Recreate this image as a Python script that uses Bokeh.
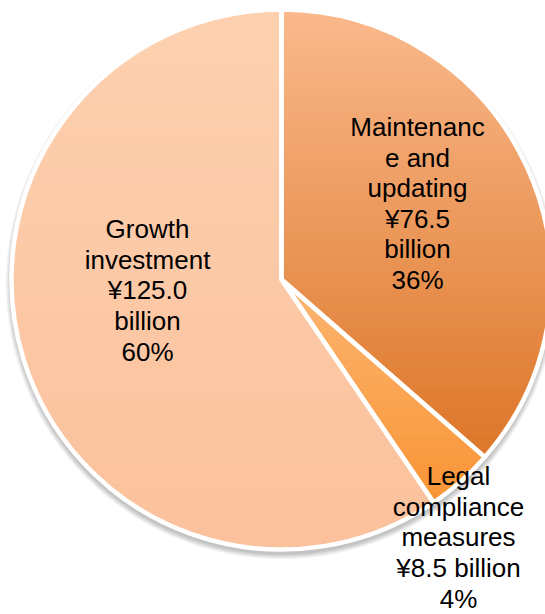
import numpy as np
from bokeh.plotting import figure
from bokeh.models import Range1d
from bokeh.core.properties import value
from bokeh.embed import file_html
from bokeh.resources import INLINE

# ---- data ----
categories = ["Maintenance and updating", "Legal compliance measures", "Growth investment"]
amounts = [76.5, 8.5, 125.0]          # ¥ billion
percents = [36, 4, 60]
label_texts = [
    "Maintenanc\ne and\nupdating\n¥76.5\nbillion\n36%",
    "Legal\ncompliance\nmeasures\n¥8.5 billion\n4%",
    "Growth\ninvestment\n¥125.0\nbillion\n60%",
]

# ---- style / layout ----
W, H = 545, 614
CX, CY, R = 281, H - 279, 270
grad_top = ["#FAB98C", "#FDB672", "#FDD1B0"]
grad_bot = ["#DD7628", "#F99434", "#FBC19C"]
label_offsets = [(136, 76), (177, -258), (-134, -11)]   # label block centre relative to pie centre
FONT = "Liberation Sans"
FSIZE = "26px"

p = figure(width=W, height=H, output_backend="svg", toolbar_location=None,
           x_range=Range1d(0, W), y_range=Range1d(0, H),
           x_axis_location=None, y_axis_location=None,
           min_border=0, min_border_left=0, min_border_right=0,
           min_border_top=0, min_border_bottom=0)
p.grid.visible = False
p.outline_line_color = None
p.background_fill_color = "white"
p.border_fill_color = "white"

# shadow
for k in range(7):
    p.circle(x=[CX], y=[CY - 4], radius=R + 1 + k * 0.8, fill_color="black",
             fill_alpha=0.035, line_color=None)

# angles (clockwise from 12 o'clock)
total = sum(amounts)
fr = np.array(amounts) / total
ends = np.pi / 2 - 2 * np.pi * np.cumsum(fr)
starts = np.concatenate([[np.pi / 2], ends[:-1]])


def hexrgb(h):
    return np.array([int(h[i:i + 2], 16) for i in (1, 3, 5)], dtype=float)


def clip(poly, y0, keep_above):
    out = []
    n = len(poly)
    for i in range(n):
        P, Q = poly[i], poly[(i + 1) % n]
        inP = P[1] >= y0 if keep_above else P[1] <= y0
        inQ = Q[1] >= y0 if keep_above else Q[1] <= y0
        if inP:
            out.append(P)
        if inP != inQ:
            t = (y0 - P[1]) / (Q[1] - P[1])
            out.append((P[0] + t * (Q[0] - P[0]), y0))
    return out


xs_all, ys_all, cols = [], [], []
for i in range(len(amounts)):
    a = np.linspace(starts[i], ends[i], 200)
    poly = [(CX, CY)] + list(zip(CX + R * np.cos(a), CY + R * np.sin(a)))
    ymin = min(q[1] for q in poly)
    ymax = max(q[1] for q in poly)
    n = 60
    c0, c1 = hexrgb(grad_top[i]), hexrgb(grad_bot[i])
    for j in range(n):
        yh = ymax - (ymax - ymin) * j / n
        yl = ymax - (ymax - ymin) * (j + 1) / n
        band = clip(clip(poly, yl, True), yh, False)
        if len(band) < 3:
            continue
        t = (j + 0.5) / n
        c = c0 + (c1 - c0) * t
        cols.append("#%02x%02x%02x" % tuple(int(round(v)) for v in c))
        xs_all.append([q[0] for q in band])
        ys_all.append([q[1] for q in band])

p.patches(xs=xs_all, ys=ys_all, fill_color=cols, line_color=cols, line_width=0.8)

# white separators / outline
p.wedge(x=CX, y=CY, radius=R, start_angle=list(ends), end_angle=list(starts),
        fill_color=None, line_color="white", line_width=4.5)

# labels
lx = [CX + d[0] for d in label_offsets]
ly = [CY + d[1] for d in label_offsets]
p.text(x=lx, y=ly, text=label_texts, text_align="center", text_baseline="middle",
       text_font=value(FONT), text_font_size=FSIZE, text_color="#000000",
       text_line_height=1.02)

open("out.html", "w").write(file_html(p, INLINE))
